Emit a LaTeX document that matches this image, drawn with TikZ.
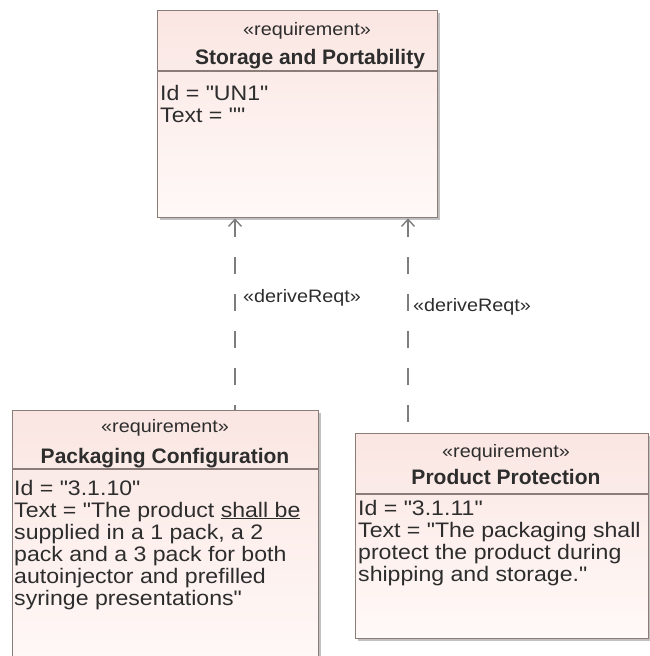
\documentclass[tikz,border=0pt]{standalone}
\usepackage{fontspec}
\setmainfont{Liberation Sans}
\newfontfamily\bodyfont{Liberation Sans}[FakeStretch=1.1]
\usetikzlibrary{arrows.meta,shadows}

\definecolor{reqborder}{RGB}{138,124,118}
\definecolor{reqtop}{RGB}{250,230,226}
\definecolor{reqbottom}{RGB}{255,249,248}
\definecolor{reqtext}{RGB}{45,45,45}
\definecolor{deplink}{RGB}{125,125,125}

\tikzset{
  reqbox/.style={draw=reqborder, line width=1.4pt, rectangle, inner sep=0pt,
    top color=reqtop, bottom color=reqbottom, anchor=north west,
    drop shadow={shadow xshift=2.5pt, shadow yshift=-2.5pt, fill=black!35, opacity=0.7}},
  sepline/.style={draw=reqborder, line width=1.2pt},
  stereo/.style={anchor=base, inner sep=0pt, text=reqtext, font=\bodyfont\fontsize{18}{22}\selectfont},
  reqname/.style={anchor=base, inner sep=0pt, text=reqtext, font=\bfseries\fontsize{21}{22}\selectfont},
  field/.style={anchor=base west, inner sep=0pt, text=reqtext, font=\bodyfont\fontsize{21}{22}\selectfont},
  deplabel/.style={anchor=base west, inner sep=0pt, text=reqtext, font=\bodyfont\fontsize{18}{22}\selectfont},
  derive/.style={draw=deplink, line width=1.6pt, dash pattern=on 17pt off 20pt,
    {Straight Barb[length=7pt, width=13pt, line width=1.4pt]}-},
}

\begin{document}
\begin{tikzpicture}[x=1pt, y=-1pt]
\useasboundingbox (0,0) rectangle (650,656);

% --- Storage and Portability ---
\node[reqbox, minimum width=280pt, minimum height=207pt] (sp) at (157,10) {};
\draw[sepline] (157,71) -- (437,71);
\node[stereo]  (spst) at (307,35) {«requirement»};
\node[reqname] (spnm) at (310,64) {Storage and Portability};
\node[field]   (spid) at (160,100) {Id = "UN1"};
\node[field]   (sptx) at (160,122) {Text = ""};

% --- Packaging Configuration ---
\node[reqbox, minimum width=306pt, minimum height=262pt] (pc) at (12,410) {};
\draw[sepline] (12,469) -- (318,469);
\node[stereo]  (pcst) at (165,432) {«requirement»};
\node[reqname] (pcnm) at (165,463) {Packaging Configuration};
\node[field]   (pcl1) at (14,495) {Id = "3.1.10"};
\node[field]   (pcl2) at (14,517) {Text = "The product \underline{shall be}};
\node[field]   (pcl3) at (14,539) {supplied in a 1 pack, a 2};
\node[field]   (pcl4) at (14,561) {pack and a 3 pack for both};
\node[field]   (pcl5) at (14,583) {autoinjector and prefilled};
\node[field]   (pcl6) at (14,605) {syringe presentations"};

% --- Product Protection ---
\node[reqbox, minimum width=293pt, minimum height=205pt] (pp) at (355,433) {};
\draw[sepline] (355,494) -- (648,494);
\node[stereo]  (ppst) at (506,457) {«requirement»};
\node[reqname] (ppnm) at (506,484) {Product Protection};
\node[field]   (ppl1) at (358,515) {Id = "3.1.11"};
\node[field]   (ppl2) at (358,537) {Text = "The packaging shall};
\node[field]   (ppl3) at (358,559) {protect the product during};
\node[field]   (ppl4) at (358,581) {shipping and storage."};

% --- deriveReqt dependencies ---
\coordinate (sp1) at (sp.south west -| 235,0);
\coordinate (pc1) at (pc.north west -| 235,0);
\coordinate (sp2) at (sp.south west -| 408,0);
\coordinate (pp2) at (pp.north west -| 408,0);
\draw[derive] (sp1) -- (pc1);
\draw[derive] (sp2) -- (pp2);
\node[deplabel] (dl1) at (243,302) {«deriveReqt»};
\node[deplabel] (dl2) at (413,311) {«deriveReqt»};
\end{tikzpicture}
\end{document}
